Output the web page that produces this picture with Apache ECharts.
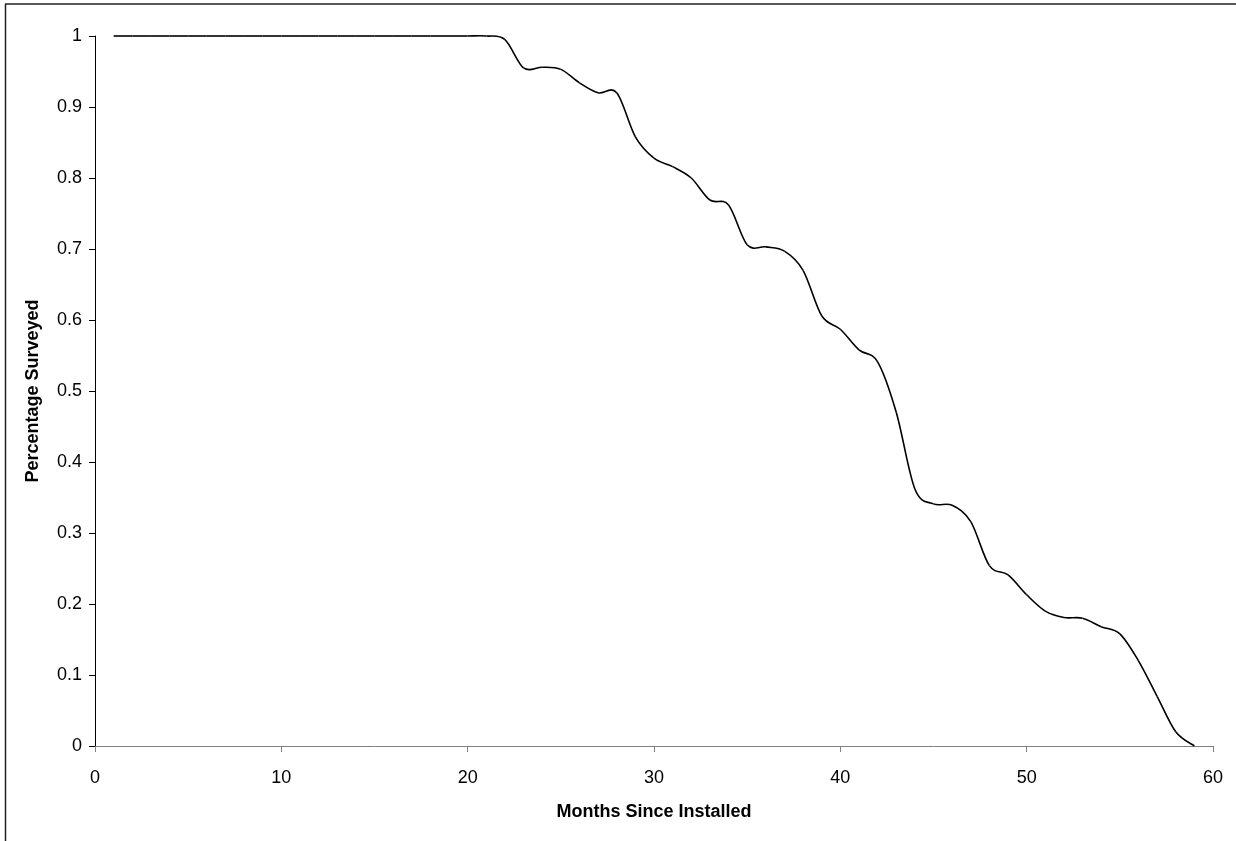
<!DOCTYPE html>
<html>
<head>
<meta charset="utf-8">
<script src="https://cdn.jsdelivr.net/npm/echarts@6/dist/echarts.min.js"></script>
<style>
html,body{margin:0;padding:0;background:#fff;}
#chart{width:1236px;height:841px;}
</style>
</head>
<body>
<div id="chart"></div>
<script>
var months = [1,2,3,4,5,6,7,8,9,10,11,12,13,14,15,16,17,18,19,20,21,22,23,24,25,26,27,28,29,30,31,32,33,34,35,36,37,38,39,40,41,42,43,44,45,46,47,48,49,50,51,52,53,54,55,56,57,58,59];
var surveyed = [1,1,1,1,1,1,1,1,1,1,1,1,1,1,1,1,1,1,1,1,1,0.995,0.955,0.956,0.953,0.934,0.92,0.92,0.858,0.828,0.816,0.8,0.769,0.762,0.706,0.703,0.697,0.67,0.606,0.587,0.558,0.541,0.47,0.362,0.341,0.339,0.316,0.254,0.241,0.213,0.19,0.181,0.18,0.168,0.158,0.12,0.07,0.02,0];
var xTicks = [0,10,20,30,40,50,60];
var yTicks = [0,0.1,0.2,0.3,0.4,0.5,0.6,0.7,0.8,0.9,1];

var chart = echarts.init(document.getElementById('chart'), null, {renderer:'canvas'});
var pts = months.map(function(m,i){return [m, surveyed[i]];});
var font = 'Liberation Sans, Arial, sans-serif';
var n = months.length;

// Smooth (Excel-like Catmull-Rom) segment from point i to i+1, positioned via the axis scales
function renderSeg(params, api){
  var i = params.dataIndex;
  if (i >= n - 1) return null;
  function P(k){ k = Math.max(0, Math.min(n-1, k)); return api.coord([months[k], surveyed[k]]); }
  var p0 = P(i-1), p1 = P(i), p2 = P(i+1), p3 = P(i+2);
  var t = 1/6;
  return {
    type:'bezierCurve',
    shape:{
      x1:p1[0], y1:p1[1],
      cpx1:p1[0] + (p2[0]-p0[0])*t, cpy1:p1[1] + (p2[1]-p0[1])*t,
      cpx2:p2[0] - (p3[0]-p1[0])*t, cpy2:p2[1] - (p3[1]-p1[1])*t,
      x2:p2[0], y2:p2[1]
    },
    style:{stroke:'#000', lineWidth:1.6, fill:null},
    silent:true
  };
}

chart.setOption({
  animation:false,
  backgroundColor:'#fff',
  grid:{left:95,right:23,top:36,bottom:95,containLabel:false},
  graphic:[
    {type:'line',shape:{x1:5,y1:4,x2:1236,y2:4},style:{stroke:'#222',lineWidth:1.5}},
    {type:'line',shape:{x1:5.5,y1:4,x2:5.5,y2:841},style:{stroke:'#222',lineWidth:1.5}}
  ],
  xAxis:{
    type:'value',min:xTicks[0],max:xTicks[xTicks.length-1],interval:10,
    name:'Months Since Installed',nameLocation:'middle',nameGap:57,
    nameTextStyle:{fontFamily:font,fontSize:18,fontWeight:'bold',color:'#000'},
    axisLine:{show:true,onZero:false,lineStyle:{color:'#808080',width:1}},
    axisTick:{show:true,inside:false,length:6,lineStyle:{color:'#808080'}},
    axisLabel:{fontFamily:font,fontSize:18,color:'#000',margin:23},
    splitLine:{show:false}
  },
  yAxis:{
    type:'value',min:yTicks[0],max:yTicks[yTicks.length-1],interval:0.1,
    name:'Percentage Surveyed',nameLocation:'middle',nameGap:53,
    nameTextStyle:{fontFamily:font,fontSize:18,fontWeight:'bold',color:'#000'},
    axisLine:{show:true,lineStyle:{color:'#000',width:1}},
    axisTick:{show:true,inside:false,length:6,lineStyle:{color:'#000'}},
    axisLabel:{fontFamily:font,fontSize:18,color:'#000',margin:13,
      formatter:function(v){return String(Math.round(v*10)/10);}},
    splitLine:{show:false}
  },
  series:[{
    type:'custom',data:pts,renderItem:renderSeg,clip:false,
    encode:{x:0,y:1}
  }]
});
</script>
</body>
</html>
